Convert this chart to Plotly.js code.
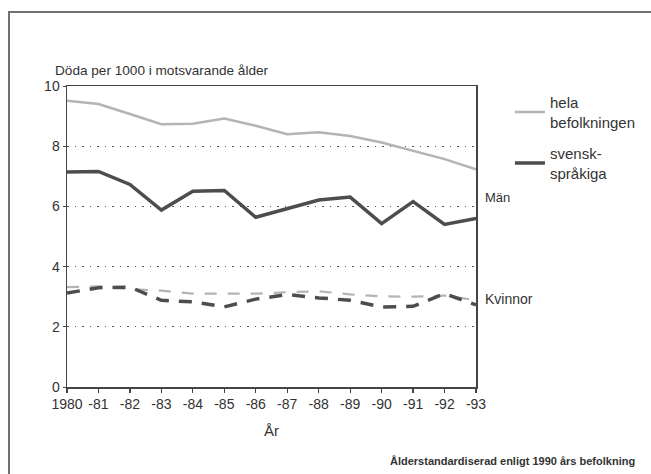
<!DOCTYPE html>
<html>
<head>
<meta charset="utf-8">
<script src="https://cdn.plot.ly/plotly-3.0.1.min.js"></script>
<style>
html,body{margin:0;padding:0;background:#fff;}
#wrap{position:relative;width:651px;height:474px;overflow:hidden;}
#chart{position:absolute;left:0;top:0;width:651px;height:474px;}
#frame{position:absolute;left:8px;top:11px;width:700px;height:520px;z-index:10;
  border-left:2px solid #707070;border-top:2px solid #707070;pointer-events:none;}
</style>
</head>
<body>
<div id="wrap"><div id="chart"></div><div id="frame"></div></div>
<script>
// ---- data ----
const years = [1980,1981,1982,1983,1984,1985,1986,1987,1988,1989,1990,1991,1992,1993];
const yearLabels = ["1980","-81","-82","-83","-84","-85","-86","-87","-88","-89","-90","-91","-92","-93"];
const menAll     = [9.51,9.40,9.07,8.73,8.75,8.92,8.68,8.40,8.46,8.34,8.12,7.84,7.57,7.23];
const menSwedish = [7.14,7.16,6.73,5.88,6.50,6.53,5.64,5.92,6.21,6.31,5.43,6.16,5.40,5.60];
const womenAll     = [3.32,3.34,3.25,3.20,3.10,3.10,3.10,3.15,3.18,3.08,3.01,3.00,3.04,2.88];
const womenSwedish = [3.12,3.30,3.32,2.88,2.83,2.66,2.92,3.07,2.96,2.88,2.66,2.68,3.10,2.73];
const seriesNames = ["hela<br>befolkningen","svensk-<br>språkiga"];

const FONT = "Liberation Sans, Arial, Helvetica, sans-serif";
const LIGHT = "#b4b4b4";
const DARK = "#4d4d4d";

const traces = [
  {x: years, y: menAll, mode: "lines", name: seriesNames[0], legendgroup: "a",
   line: {color: LIGHT, width: 2.5}},
  {x: years, y: menSwedish, mode: "lines", name: seriesNames[1], legendgroup: "b",
   line: {color: DARK, width: 3.5}},
  {x: years, y: womenAll, mode: "lines", name: seriesNames[0], showlegend: false,
   line: {color: LIGHT, width: 2.2, dash: "12px,11px"}},
  {x: years, y: womenSwedish, mode: "lines", name: seriesNames[1], showlegend: false,
   line: {color: DARK, width: 3.5, dash: "13px,10px"}}
];

const layout = {
  width: 651, height: 474,
  margin: {l: 67, r: 175, t: 86, b: 87, pad: 0, autoexpand: false},
  paper_bgcolor: "rgba(0,0,0,0)", plot_bgcolor: "rgba(0,0,0,0)",
  font: {family: FONT, size: 14, color: "#333"},
  showlegend: true,
  legend: {x: 1.083, y: 1.0, xanchor: "left", yanchor: "top",
           font: {family: FONT, size: 15, color: "#333"},
           itemwidth: 30,
           bgcolor: "rgba(0,0,0,0)", tracegroupgap: 9, traceorder: "grouped"},
  xaxis: {range: [1980, 1993], tickvals: years, ticktext: yearLabels,
          showgrid: false, zeroline: false,
          showline: true, linecolor: "#444", linewidth: 1.5, mirror: true,
          ticks: "outside", ticklen: 4, tickcolor: "#444", tickwidth: 1.2,
          tickfont: {family: FONT, size: 14, color: "#333"}},
  yaxis: {range: [0, 10], tickvals: [0,2,4,6,8,10], zeroline: false,
          showgrid: true, gridcolor: "#555", gridwidth: 1, griddash: "1.5px,6px",
          showline: true, linecolor: "#444", linewidth: 1.5, mirror: true,
          ticks: "outside", ticklen: 3, tickcolor: "#444",
          tickfont: {family: FONT, size: 14, color: "#333"}},
  annotations: [
    {text: "Döda per 1000 i motsvarande ålder", xref: "paper", yref: "paper",
     x: -0.034, y: 1.05, xanchor: "left", yanchor: "middle", showarrow: false,
     font: {family: FONT, size: 13.6, color: "#333"}},
    {text: "År", xref: "paper", yref: "paper", x: 0.501, y: -0.143,
     xanchor: "center", yanchor: "middle", showarrow: false,
     font: {family: FONT, size: 15, color: "#333"}},
    {text: "Män", xref: "paper", yref: "paper", x: 1.017, y: 0.631,
     xanchor: "left", yanchor: "middle", showarrow: false,
     font: {family: FONT, size: 13, color: "#333"}},
    {text: "Kvinnor", xref: "paper", yref: "paper", x: 1.017, y: 0.292,
     xanchor: "left", yanchor: "middle", showarrow: false,
     font: {family: FONT, size: 14, color: "#333"}},
    {text: "<b>Ålderstandardiserad enligt 1990 års befolkning</b>", xref: "paper", yref: "paper",
     x: 1.394, y: -0.246, xanchor: "right", yanchor: "middle", showarrow: false,
     font: {family: FONT, size: 11, color: "#333"}}
  ]
};

Plotly.newPlot("chart", traces, layout, {staticPlot: true, displayModeBar: false});
</script>
</body>
</html>
